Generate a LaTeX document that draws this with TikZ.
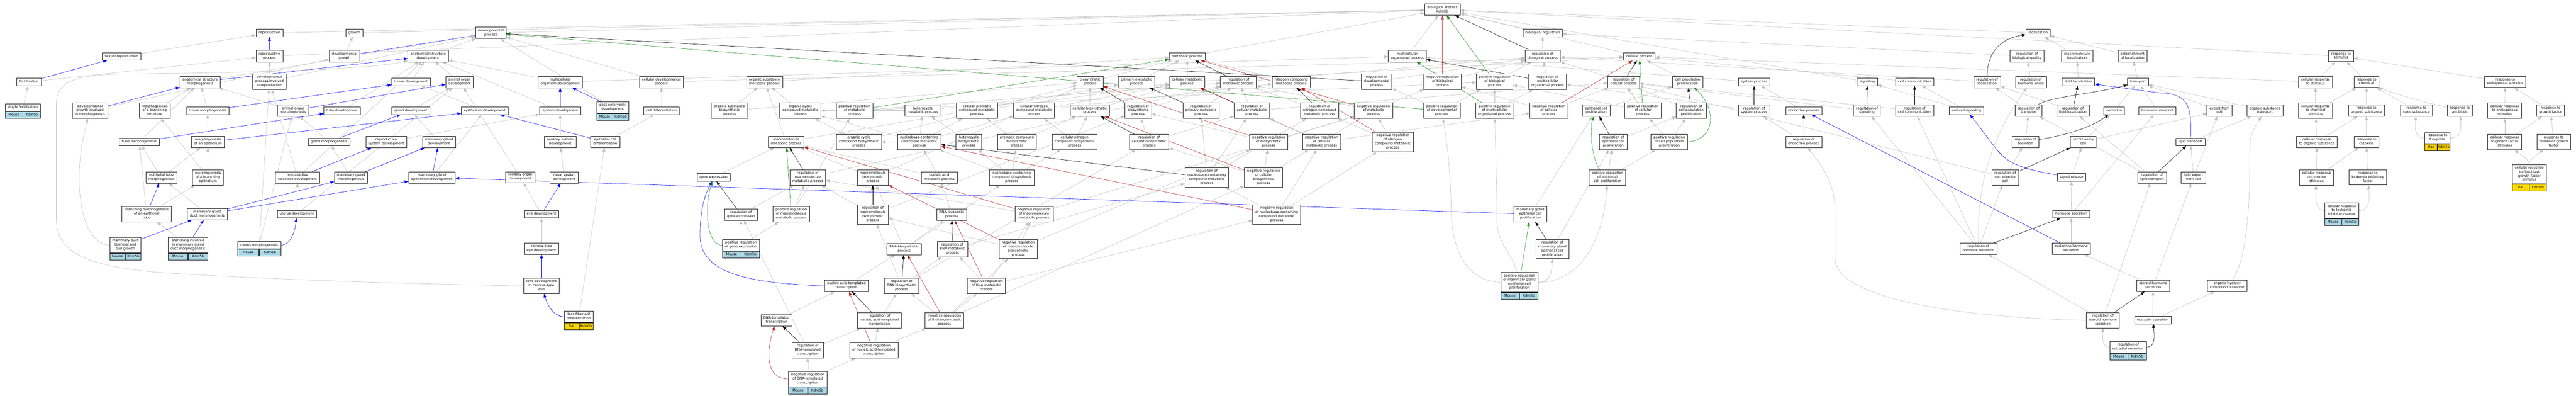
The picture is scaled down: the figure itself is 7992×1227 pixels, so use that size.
\documentclass[tikz,border=0pt]{standalone}
\usepackage{fontspec}
\setsansfont{DejaVu Sans}
\usepackage{tikz}
\usetikzlibrary{arrows.meta,calc,backgrounds}

\definecolor{isagray}{RGB}{192,192,192}
\definecolor{partblue}{RGB}{0,0,255}
\definecolor{posgreen}{RGB}{34,139,34}
\definecolor{negred}{RGB}{178,34,34}
\definecolor{mousecell}{RGB}{173,216,230}
\definecolor{ratcell}{RGB}{255,215,0}

\tikzstyle{gobox} = [rectangle, draw=black!85, line width=1.1pt, fill=white, align=center,
inner xsep=8pt, inner ysep=5.5pt, font=\sffamily\fontsize{10.5}{12.5}\selectfont,
execute at begin node=\strut, execute at end node=\strut]
\tikzstyle{genecell} = [rectangle, draw=black!85, line width=1.1pt, inner sep=0pt, minimum height=21pt,
font=\sffamily\fontsize{10.5}{12.5}\selectfont, text height=8pt, text depth=2.5pt]
\tikzstyle{goline} = [line width=0.9pt, -{Triangle[length=12pt,width=9pt]}]
\tikzstyle{isaline} = [goline, isagray]
\tikzstyle{partline} = [goline, partblue]
\tikzstyle{regline} = [goline, black]
\tikzstyle{posline} = [goline, posgreen]
\tikzstyle{negline} = [goline, negred]

% species / gene row under an annotated term
\newcommand{\kdmcells}[3]{%
  \path let \p1 = ($(#1.south east)-(#1.south west)$) in
    node(#1sp) [genecell, fill=#3, minimum width=0.5*\x1-1.1pt, anchor=north west] at (#1.south west) {#2}
    node(#1gene) [genecell, fill=#3, minimum width=0.5*\x1-1.1pt, anchor=north east] at (#1.south east) {Kdm5b};}

\begin{document}
\begin{tikzpicture}[x=1pt, y=-1pt]
\useasboundingbox (0,0) rectangle (7992,1227);

% Root
\node(root) [gobox] at (4475,30) {Biological Process\\Kdm5b};

% Reproduction and development
\node(sexrep) [gobox] at (377,175) {sexual reproduction};
\node(fert) [gobox] at (90,254) {fertilization};
\node(singfert) [gobox] at (71,333) {single fertilization};
\node(devgrowthmorph) [gobox] at (279,343) {developmental\\growth involved\\in morphogenesis};
\node(asmorph) [gobox] at (621,254) {anatomical structure\\morphogenesis};
\node(branchstruct) [gobox] at (480,343) {morphogenesis\\of a branching\\structure};
\node(tissuemorph) [gobox] at (644,343) {tissue morphogenesis};
\node(tubemorph) [gobox] at (432,440) {tube morphogenesis};
\node(epimorph) [gobox] at (645,440) {morphogenesis\\of an epithelium};
\node(epitubemorph) [gobox] at (501,550) {epithelial tube\\morphogenesis};
\node(branchepi) [gobox] at (645,550) {morphogenesis\\of a branching\\epithelium};
\node(branchtube) [gobox] at (455,664) {branching morphogenesis\\of an epithelial\\tube};
\node(mgductmorph) [gobox] at (643,664) {mammary gland\\duct morphogenesis};
\node(budgrowth) [gobox] at (389,760) {mammary duct\\terminal end\\bud growth};
\node(branchmg) [gobox] at (583,760) {branching involved\\in mammary gland\\duct morphogenesis};
\node(repro) [gobox] at (836,102) {reproduction};
\node(repproc) [gobox] at (836,174) {reproductive\\process};
\node(growth) [gobox] at (1099,102) {growth};
\node(devgrowth) [gobox] at (1069,174) {developmental\\growth};
\node(asdev) [gobox] at (1328,174) {anatomical structure\\development};
\node(devreprod) [gobox] at (836,253) {developmental\\process involved\\in reproduction};
\node(tissuedev) [gobox] at (1275,254) {tissue development};
\node(organmorph) [gobox] at (909,343) {animal organ\\morphogenesis};
\node(tubedev) [gobox] at (1061,343) {tube development};
\node(glanddev) [gobox] at (1275,343) {gland development};
\node(glandmorph) [gobox] at (1021,440) {gland morphogenesis};
\node(repsysdev) [gobox] at (1198,440) {reproductive\\system development};
\node(mgdev) [gobox] at (1362,440) {mammary gland\\development};
\node(repstructdev) [gobox] at (923,550) {reproductive\\structure development};
\node(mgmorph) [gobox] at (1089,550) {mammary gland\\morphogenesis};
\node(mgepidev) [gobox] at (1340,550) {mammary gland\\epithelium development};
\node(uterusdev) [gobox] at (921,664) {uterus development};
\node(uterusmorph) [gobox] at (804,760) {uterus morphogenesis};
\node(devproc) [gobox] at (1523,102) {developmental\\process};
\node(organdev) [gobox] at (1426,254) {animal organ\\development};
\node(mcodev) [gobox] at (1738,254) {multicellular\\organism development};
\node(celldevproc) [gobox] at (2052,254) {cellular developmental\\process};
\node(epidev) [gobox] at (1504,343) {epithelium development};
\node(sysdev) [gobox] at (1738,343) {system development};
\node(postemb) [gobox] at (1901,333) {post-embryonic\\development};
\node(celldiff) [gobox] at (2052,343) {cell differentiation};
\node(senssysdev) [gobox] at (1738,440) {sensory system\\development};
\node(epicelldiff) [gobox] at (1878,440) {epithelial cell\\differentiation};
\node(sensorgdev) [gobox] at (1614,550) {sensory organ\\development};
\node(vissysdev) [gobox] at (1750,550) {visual system\\development};
\node(eyedev) [gobox] at (1680,664) {eye development};
\node(cameyedev) [gobox] at (1680,771) {camera-type\\eye development};
\node(lensdev) [gobox] at (1680,886) {lens development\\in camera-type\\eye};
\node(lensfiber) [gobox] at (1796,982) {lens fiber cell\\differentiation};

% Metabolism
\node(orgsubmet) [gobox] at (2372,254) {organic substance\\metabolic process};
\node(orgsubbio) [gobox] at (2263,343) {organic substance\\biosynthetic\\process};
\node(orgcycmet) [gobox] at (2483,343) {organic cyclic\\compound metabolic\\process};
\node(posregmet) [gobox] at (2651,343) {positive regulation\\of metabolic\\process};
\node(orgcycbio) [gobox] at (2665,440) {organic cyclic\\compound biosynthetic\\process};
\node(macromet) [gobox] at (2439,440) {macromolecule\\metabolic process};
\node(geneexpr) [gobox] at (2214,550) {gene expression};
\node(regmacromet) [gobox] at (2506,550) {regulation of\\macromolecule\\metabolic process};
\node(macrobio) [gobox] at (2708,550) {macromolecule\\biosynthetic\\process};
\node(reggeneexpr) [gobox] at (2299,665) {regulation of\\gene expression};
\node(posregmacromet) [gobox] at (2455,664) {positive regulation\\of macromolecule\\metabolic process};
\node(regmacrobio) [gobox] at (2708,665) {regulation of\\macromolecule\\biosynthetic\\process};
\node(posreggeneexpr) [gobox] at (2299,760) {positive regulation\\of gene expression};
\node(natrans) [gobox] at (2626,886) {nucleic acid-templated\\transcription};
\node(dnatrans) [gobox] at (2409,993) {DNA-templated\\transcription};
\node(regnatrans) [gobox] at (2728,993) {regulation of\\nucleic acid-templated\\transcription};
\node(regdnatrans) [gobox] at (2506,1086) {regulation of\\DNA-templated\\transcription};
\node(negregnatrans) [gobox] at (2711,1086) {negative regulation\\of nucleic acid-templated\\transcription};
\node(negregdnatrans) [gobox] at (2506,1175) {negative regulation\\of DNA-templated\\transcription};
\node(hetmet) [gobox] at (2863,343) {heterocycle\\metabolic process};
\node(cellaromet) [gobox] at (3031,343) {cellular aromatic\\compound metabolic\\process};
\node(cellnitmet) [gobox] at (3208,343) {cellular nitrogen\\compound metabolic\\process};
\node(cellbio) [gobox] at (3381,343) {cellular biosynthetic\\process};
\node(nucmet) [gobox] at (2852,440) {nucleobase-containing\\compound metabolic\\process};
\node(hetbio) [gobox] at (3006,440) {heterocycle\\biosynthetic\\process};
\node(arobio) [gobox] at (3155,440) {aromatic compound\\biosynthetic\\process};
\node(cellnitbio) [gobox] at (3334,440) {cellular nitrogen\\compound biosynthetic\\process};
\node(nucacidmet) [gobox] at (2914,550) {nucleic acid\\metabolic process};
\node(nucbio) [gobox] at (3139,550) {nucleobase-containing\\compound biosynthetic\\process};
\node(rnamet) [gobox] at (2953,665) {RNA metabolic\\process};
\node(negregmacromet) [gobox] at (3208,664) {negative regulation\\of macromolecule\\metabolic process};
\node(rnabio) [gobox] at (2805,772) {RNA biosynthetic\\process};
\node(regrnamet) [gobox] at (2955,772) {regulation of\\RNA metabolic\\process};
\node(negregmacrobio) [gobox] at (3159,772) {negative regulation\\of macromolecule\\biosynthetic\\process};
\node(regrnabio) [gobox] at (2797,886) {regulation of\\RNA biosynthetic\\process};
\node(negregrnamet) [gobox] at (3060,886) {negative regulation\\of RNA metabolic\\process};
\node(negregrnabio) [gobox] at (2930,993) {negative regulation\\of RNA biosynthetic\\process};
\node(metproc) [gobox] at (3683,175) {metabolic process};
\node(bioproc) [gobox] at (3382,254) {biosynthetic\\process};
\node(primet) [gobox] at (3526,254) {primary metabolic\\process};
\node(cellmet) [gobox] at (3683,254) {cellular metabolic\\process};
\node(regmet) [gobox] at (3842,254) {regulation of\\metabolic process};
\node(nitmet) [gobox] at (4006,254) {nitrogen compound\\metabolic process};
\node(regbio) [gobox] at (3531,343) {regulation of\\biosynthetic\\process};
\node(regprimet) [gobox] at (3726,343) {regulation of\\primary metabolic\\process};
\node(regcellmet) [gobox] at (3884,343) {regulation of\\cellular metabolic\\process};
\node(regcellbio) [gobox] at (3565,440) {regulation of\\cellular biosynthetic\\process};
\node(negregbio) [gobox] at (3936,440) {negative regulation\\of biosynthetic\\process};
\node(regnucmet) [gobox] at (3744,550) {regulation of\\nucleobase-containing\\compound metabolic\\process};
\node(negregcellbio) [gobox] at (3920,550) {negative regulation\\of cellular\\biosynthetic\\process};
\node(negregnucmet) [gobox] at (3961,665) {negative regulation\\of nucleobase-containing\\compound metabolic\\process};

% Biological regulation
\node(mcoproc) [gobox] at (4366,174) {multicellular\\organismal process};
\node(regdevproc) [gobox] at (4271,253) {regulation of\\developmental\\process};
\node(negregbp) [gobox] at (4475,253) {negative regulation\\of biological\\process};
\node(posregbp) [gobox] at (4637,253) {positive regulation\\of biological\\process};
\node(regnitmet) [gobox] at (4094,343) {regulation of\\nitrogen compound\\metabolic process};
\node(negregmet) [gobox] at (4261,343) {negative regulation\\of metabolic\\process};
\node(posregdev) [gobox] at (4473,343) {positive regulation\\of developmental\\process};
\node(posregmco) [gobox] at (4637,343) {positive regulation\\of multicellular\\organismal process};
\node(negregcellmet) [gobox] at (4100,440) {negative regulation\\of cellular\\metabolic process};
\node(negregnitmet) [gobox] at (4321,440) {negative regulation\\of nitrogen\\compound metabolic\\process};
\node(bioreg) [gobox] at (4786,102) {biological regulation};
\node(regbp) [gobox] at (4786,174) {regulation of\\biological process};
\node(cellproc) [gobox] at (5086,175) {cellular process};
\node(regmco) [gobox] at (4801,253) {regulation of\\multicellular\\organismal process};
\node(regcellproc) [gobox] at (5037,254) {regulation of\\cellular process};
\node(cellpop) [gobox] at (5236,254) {cell population\\proliferation};
\node(negregcellproc) [gobox] at (4805,343) {negative regulation\\of cellular\\process};
\node(epiprolif) [gobox] at (4952,343) {epithelial cell\\proliferation};
\node(posregcellproc) [gobox] at (5097,343) {positive regulation\\of cellular\\process};
\node(regcellpop) [gobox] at (5247,343) {regulation of\\cell population\\proliferation};
\node(regepiprolif) [gobox] at (5005,440) {regulation of\\epithelial cell\\proliferation};
\node(posregcellpop) [gobox] at (5179,440) {positive regulation\\of cell population\\proliferation};
\node(posregepiprolif) [gobox] at (4987,550) {positive regulation\\of epithelial\\cell proliferation};
\node(mgepiprolif) [gobox] at (4748,664) {mammary gland\\epithelial cell\\proliferation};
\node(regmgepiprolif) [gobox] at (4816,772) {regulation of\\mammary gland\\epithelial cell\\proliferation};
\node(posregmgepiprolif) [gobox] at (4714,875) {positive regulation\\of mammary gland\\epithelial cell\\proliferation};

% Signaling and localization
\node(sysproc) [gobox] at (5442,254) {system process};
\node(regsysproc) [gobox] at (5442,343) {regulation of\\system process};
\node(endoproc) [gobox] at (5596,343) {endocrine process};
\node(regendoproc) [gobox] at (5596,440) {regulation of\\endocrine process};
\node(signaling) [gobox] at (5793,254) {signaling};
\node(regsignal) [gobox] at (5792,343) {regulation of\\signaling};
\node(cellcomm) [gobox] at (5940,254) {cell communication};
\node(regcellcomm) [gobox] at (5940,343) {regulation of\\cell communication};
\node(localization) [gobox] at (6323,102) {localization};
\node(regbioqual) [gobox] at (6289,174) {regulation of\\biological quality};
\node(macroloc) [gobox] at (6444,174) {macromolecule\\localization};
\node(estloc) [gobox] at (6616,174) {establishment\\of localization};
\node(regloc) [gobox] at (6165,254) {regulation of\\localization};
\node(reghormlev) [gobox] at (6301,254) {regulation of\\hormone levels};
\node(lipidloc) [gobox] at (6448,254) {lipid localization};
\node(transport) [gobox] at (6633,254) {transport};
\node(cellcell) [gobox] at (6101,343) {cell-cell signaling};
\node(regtransport) [gobox] at (6294,343) {regulation of\\transport};
\node(reglipidloc) [gobox] at (6431,343) {regulation of\\lipid localization};
\node(secretion) [gobox] at (6559,343) {secretion};
\node(hormtrans) [gobox] at (6693,343) {hormone transport};
\node(regsecretion) [gobox] at (6284,440) {regulation of\\secretion};
\node(seccell) [gobox] at (6463,440) {secretion by\\cell};
\node(regseccell) [gobox] at (6221,550) {regulation of\\secretion by\\cell};
\node(sigrelease) [gobox] at (6427,550) {signal release};
\node(reglipidtrans) [gobox] at (6677,550) {regulation of\\lipid transport};
\node(hormsec) [gobox] at (6426,664) {hormone secretion};
\node(reghormsec) [gobox] at (6138,771) {regulation of\\hormone secretion};
\node(endohormsec) [gobox] at (6426,771) {endocrine hormone\\secretion};
\node(sterhormsec) [gobox] at (6680,886) {steroid hormone\\secretion};
\node(regsterhormsec) [gobox] at (6524,993) {regulation of\\steroid hormone\\secretion};
\node(estradiolsec) [gobox] at (6679,992) {estradiol secretion};
\node(regestradiol) [gobox] at (6602,1076) {regulation of\\estradiol secretion};

% Response to stimulus
\node(respstim) [gobox] at (7263,174) {response to\\stimulus};
\node(cellrespstim) [gobox] at (7184,254) {cellular response\\to stimulus};
\node(respchem) [gobox] at (7342,254) {response to\\chemical};
\node(exportcell) [gobox] at (6886,343) {export from\\cell};
\node(orgsubtrans) [gobox] at (7027,343) {organic substance\\transport};
\node(cellrespchem) [gobox] at (7184,343) {cellular response\\to chemical\\stimulus};
\node(resporg) [gobox] at (7342,343) {response to\\organic substance};
\node(lipidtrans) [gobox] at (6796,440) {lipid transport};
\node(cellresporg) [gobox] at (7188,440) {cellular response\\to organic substance};
\node(respcyto) [gobox] at (7342,440) {response to\\cytokine};
\node(lipidexport) [gobox] at (6805,550) {lipid export\\from cell};
\node(cellrespcyto) [gobox] at (7187,550) {cellular response\\to cytokine\\stimulus};
\node(resplif) [gobox] at (7346,550) {response to\\leukemia inhibitory\\factor};
\node(orghydtrans) [gobox] at (6910,886) {organic hydroxy\\compound transport};
\node(cellresplif) [gobox] at (7265,653) {cellular response\\to leukemia\\inhibitory factor};
\node(respendo) [gobox] at (7772,254) {response to\\endogenous stimulus};
\node(resptoxic) [gobox] at (7497,343) {response to\\toxic substance};
\node(respantibiotic) [gobox] at (7632,343) {response to\\antibiotic};
\node(cellrespendo) [gobox] at (7771,343) {cellular response\\to endogenous\\stimulus};
\node(respgf) [gobox] at (7913,343) {response to\\growth factor};
\node(respfungicide) [gobox] at (7562,428) {response to\\fungicide};
\node(cellrespgf) [gobox] at (7771,440) {cellular response\\to growth factor\\stimulus};
\node(respfgf) [gobox] at (7923,440) {response to\\fibroblast growth\\factor};
\node(cellrespfgf) [gobox] at (7847,540) {cellular response\\to fibroblast\\growth factor\\stimulus};

% Annotated terms
\kdmcells{singfert}{Mouse}{mousecell}
\kdmcells{budgrowth}{Mouse}{mousecell}
\kdmcells{branchmg}{Mouse}{mousecell}
\kdmcells{uterusmorph}{Mouse}{mousecell}
\kdmcells{postemb}{Mouse}{mousecell}
\kdmcells{lensfiber}{Rat}{ratcell}
\kdmcells{posreggeneexpr}{Mouse}{mousecell}
\kdmcells{negregdnatrans}{Mouse}{mousecell}
\kdmcells{posregmgepiprolif}{Mouse}{mousecell}
\kdmcells{regestradiol}{Mouse}{mousecell}
\kdmcells{cellresplif}{Mouse}{mousecell}
\kdmcells{respfungicide}{Rat}{ratcell}
\kdmcells{cellrespfgf}{Rat}{ratcell}

\begin{scope}[on background layer]
\fill[white] (0,0) rectangle (7992,1227);

% Reproduction and development lines
\draw[isaline] (sexrep) -- (repro);
\draw[partline] (fert) -- (sexrep);
\draw[isaline] (fert) -- (repproc);
\draw[isaline] (singfert) -- (fert);
\draw[partline] (repproc) -- (repro);
\draw[isaline] (repproc) -- (root);
\draw[isaline] (repro) -- (root);
\draw[isaline] (devreprod) -- (repproc);
\draw[isaline] (devreprod) -- (devproc);
\draw[isaline] (growth) -- (root);
\draw[isaline] (devgrowth) -- (growth);
\draw[partline] (devgrowth) -- (devproc);
\draw[isaline] (devgrowthmorph) -- (devgrowth);
\draw[partline] (devgrowthmorph) -- (asmorph);
\draw[partline] (asmorph) -- (asdev);
\draw[isaline] (asmorph) -- (devproc);
\draw[isaline] (asdev) -- (devproc);
\draw[isaline] (devproc) -- (root);
\draw[isaline] (branchstruct) -- (asmorph);
\draw[isaline] (tissuemorph) -- (asmorph);
\draw[partline] (tissuemorph) -- (tissuedev);
\draw[isaline] (tubemorph) -- (asmorph);
\draw[partline] (tubemorph) -- (tubedev);
\draw[isaline] (epimorph) -- (tissuemorph);
\draw[partline] (epimorph) -- (epidev);
\draw[isaline] (epitubemorph) -- (tubemorph);
\draw[isaline] (epitubemorph) -- (epimorph);
\draw[isaline] (branchepi) -- (epimorph);
\draw[isaline] (branchepi) -- (branchstruct);
\draw[partline] (branchtube) -- (epitubemorph);
\draw[isaline] (branchtube) -- (tubemorph);
\draw[isaline] (branchtube) -- (branchepi);
\draw[isaline] (mgductmorph) -- (epitubemorph);
\draw[partline] (mgductmorph) -- (mgmorph);
\draw[partline] (mgductmorph) -- (mgepidev);
\draw[isaline] (budgrowth.west) .. controls (250,760) and (220,560) .. (devgrowthmorph);
\draw[partline] (budgrowth) -- (mgductmorph);
\draw[isaline] (branchmg) -- (branchtube);
\draw[partline] (branchmg) -- (mgductmorph);
\draw[isaline] (organmorph) -- (asmorph);
\draw[partline] (organmorph) -- (organdev);
\draw[isaline] (tubedev) -- (asdev);
\draw[isaline] (glandmorph) -- (organmorph);
\draw[partline] (glandmorph) -- (glanddev);
\draw[isaline] (tissuedev) -- (asdev);
\draw[isaline] (glanddev) -- (organdev);
\draw[partline] (repstructdev) -- (repsysdev);
\draw[isaline] (repstructdev) -- (asdev);
\draw[isaline] (repstructdev) -- (devreprod);
\draw[isaline] (repsysdev) -- (sysdev);
\draw[isaline] (mgdev) -- (glanddev);
\draw[partline] (mgepidev) -- (mgdev);
\draw[isaline] (mgepidev) -- (epidev);
\draw[isaline] (mgmorph) -- (glandmorph);
\draw[partline] (mgmorph) -- (mgdev);
\draw[isaline] (uterusdev) -- (repstructdev);
\draw[isaline] (uterusdev) -- (organdev);
\draw[partline] (uterusmorph.east) .. controls (900,760) and (915,720) .. (uterusdev);
\draw[isaline] (uterusmorph) -- (organmorph);
\draw[isaline] (uterusmorph) -- (devreprod);
\draw[isaline] (organdev) -- (asdev);
\draw[isaline] (mcodev) -- (asdev);
\draw[isaline] (mcodev) -- (mcoproc);
\draw[partline] (sysdev) -- (mcodev);
\draw[isaline] (sysdev) -- (asdev);
\draw[partline] (postemb) -- (mcodev);
\draw[isaline] (postemb) -- (devproc);
\draw[isaline] (epidev) -- (tissuedev);
\draw[isaline] (celldevproc) -- (devproc);
\draw[isaline] (celldevproc) -- (cellproc);
\draw[isaline] (celldiff) -- (celldevproc);
\draw[partline] (epicelldiff) -- (epidev);
\draw[isaline] (epicelldiff) -- (celldiff);
\draw[isaline] (senssysdev) -- (sysdev);
\draw[isaline] (vissysdev) -- (senssysdev);
\draw[isaline] (sensorgdev) -- (organdev);
\draw[isaline] (eyedev) -- (sensorgdev);
\draw[partline] (eyedev) -- (vissysdev);
\draw[isaline] (cameyedev) -- (eyedev);
\draw[partline] (lensdev) -- (cameyedev);
\draw[isaline] (lensdev.west) .. controls (1100,878) and (700,858) .. (500,845)
  .. controls (260,825) and (175,780) .. (175,680) -- (175,320)
  .. controls (175,240) and (260,230) .. (420,229) .. controls (800,225) and (1150,215) .. (asdev);
\draw[partline] (lensfiber.west) .. controls (1720,982) and (1700,950) .. (lensdev);
\draw[isaline] (lensfiber) -- (epicelldiff);

% Metabolism lines
\draw[isaline] (metproc) -- (root);
\draw[isaline] (bioproc) -- (metproc);
\draw[isaline] (primet) -- (metproc);
\draw[isaline] (cellmet) -- (metproc);
\draw[isaline] (cellmet) -- (cellproc);
\draw[regline] (regmet) -- (metproc);
\draw[isaline] (regmet) -- (regbp);
\draw[isaline] (nitmet) -- (metproc);
\draw[isaline] (orgsubmet) -- (metproc);
\draw[isaline] (orgsubbio) -- (orgsubmet);
\draw[isaline] (orgsubbio) -- (bioproc);
\draw[isaline] (orgcycmet) -- (orgsubmet);
\draw[isaline] (posregmet) -- (regmet);
\draw[posline] (posregmet) -- (metproc);
\draw[isaline] (posregmet) -- (posregbp);
\draw[isaline] (orgcycbio) -- (orgcycmet);
\draw[isaline] (orgcycbio) -- (bioproc);
\draw[isaline] (macromet) -- (orgsubmet);
\draw[isaline] (macromet) -- (primet);
\draw[isaline] (geneexpr) -- (macromet);
\draw[regline] (regmacromet) -- (macromet);
\draw[isaline] (regmacromet) -- (regmet);
\draw[isaline] (macrobio) -- (macromet);
\draw[isaline] (macrobio) -- (bioproc);
\draw[regline] (reggeneexpr) -- (geneexpr);
\draw[isaline] (reggeneexpr) -- (regmacromet);
\draw[posline] (posregmacromet) -- (macromet);
\draw[isaline] (posregmacromet) -- (regmacromet);
\draw[isaline] (posregmacromet) -- (posregmet);
\draw[regline] (regmacrobio) -- (macrobio);
\draw[isaline] (regmacrobio) -- (regmacromet);
\draw[isaline] (regmacrobio) -- (regbio);
\draw[posline] (posreggeneexpr.west) .. controls (2190,760) and (2185,640) .. (geneexpr);
\draw[isaline] (posreggeneexpr) -- (reggeneexpr);
\draw[isaline] (posreggeneexpr) -- (posregmacromet);
\draw[partline] (natrans.west) .. controls (2300,878) and (2172,840) .. (2172,730)
  .. controls (2172,640) and (2190,600) .. (geneexpr);
\draw[isaline] (natrans) -- (rnabio);
\draw[isaline] (dnatrans) -- (natrans);
\draw[regline] (regnatrans) -- (natrans);
\draw[isaline] (regnatrans) -- (regrnabio);
\draw[regline] (regdnatrans) -- (dnatrans);
\draw[isaline] (regdnatrans) -- (regnatrans);
\draw[isaline] (regdnatrans) -- (reggeneexpr);
\draw[negline] (negregnatrans) -- (natrans);
\draw[isaline] (negregnatrans) -- (regnatrans);
\draw[isaline] (negregnatrans) -- (negregrnabio);
\draw[negline] (negregdnatrans.west) .. controls (2370,1175) and (2380,1080) .. (dnatrans);
\draw[isaline] (negregdnatrans) -- (regdnatrans);
\draw[isaline] (negregdnatrans) -- (negregnatrans);
\draw[isaline] (hetmet) -- (orgcycmet);
\draw[isaline] (hetmet) -- (cellmet);
\draw[isaline] (cellaromet) -- (cellmet);
\draw[isaline] (cellnitmet) -- (cellmet);
\draw[isaline] (cellnitmet) -- (nitmet);
\draw[isaline] (cellbio) -- (bioproc);
\draw[isaline] (cellbio) -- (cellmet);
\draw[isaline] (nucmet) -- (hetmet);
\draw[isaline] (nucmet) -- (cellaromet);
\draw[isaline] (nucmet) -- (cellnitmet);
\draw[isaline] (nucmet) -- (orgcycmet);
\draw[isaline] (hetbio) -- (hetmet);
\draw[isaline] (hetbio) -- (orgcycbio);
\draw[isaline] (arobio) -- (cellaromet);
\draw[isaline] (arobio) -- (cellbio);
\draw[isaline] (cellnitbio) -- (cellnitmet);
\draw[isaline] (cellnitbio) -- (cellbio);
\draw[isaline] (nucacidmet) -- (nucmet);
\draw[isaline] (nucacidmet) -- (macromet);
\draw[isaline] (nucbio) -- (nucmet);
\draw[isaline] (nucbio) -- (hetbio);
\draw[isaline] (nucbio) -- (arobio);
\draw[isaline] (nucbio) -- (cellnitbio);
\draw[isaline] (rnamet) -- (nucacidmet);
\draw[negline] (negregmacromet) -- (macromet);
\draw[isaline] (negregmacromet) -- (regmacromet);
\draw[isaline] (negregmacromet) -- (negregmet);
\draw[isaline] (rnabio) -- (rnamet);
\draw[isaline] (rnabio) -- (nucbio);
\draw[isaline] (rnabio) -- (macrobio);
\draw[regline] (regrnamet) -- (rnamet);
\draw[isaline] (regrnamet) -- (regnucmet);
\draw[negline] (negregmacrobio) -- (macrobio);
\draw[isaline] (negregmacrobio) -- (negregmacromet);
\draw[isaline] (negregmacrobio) -- (regmacrobio);
\draw[isaline] (negregmacrobio) -- (negregbio);
\draw[regline] (regrnabio) -- (rnabio);
\draw[isaline] (regrnabio) -- (regrnamet);
\draw[isaline] (regrnabio) -- (regmacrobio);
\draw[isaline] (regrnabio) -- (regcellbio);
\draw[negline] (negregrnamet) -- (rnamet);
\draw[isaline] (negregrnamet) -- (regrnamet);
\draw[isaline] (negregrnamet) -- (negregmacromet);
\draw[isaline] (negregrnamet) -- (negregnucmet);
\draw[negline] (negregrnabio) -- (rnabio);
\draw[isaline] (negregrnabio) -- (regrnabio);
\draw[isaline] (negregrnabio) -- (negregrnamet);
\draw[isaline] (negregrnabio) -- (negregmacrobio);
\draw[isaline] (negregrnabio) -- (negregcellbio);
\draw[regline] (regbio) -- (bioproc);
\draw[isaline] (regbio) -- (regmet);
\draw[regline] (regprimet) -- (primet);
\draw[isaline] (regprimet) -- (regmet);
\draw[regline] (regcellmet) -- (cellmet);
\draw[isaline] (regcellmet) -- (regmet);
\draw[isaline] (regcellmet) -- (regcellproc);
\draw[regline] (regcellbio) -- (cellbio);
\draw[isaline] (regcellbio) -- (regbio);
\draw[isaline] (regcellbio) -- (regcellmet);
\draw[negline] (negregbio) -- (bioproc);
\draw[isaline] (negregbio) -- (regbio);
\draw[isaline] (negregbio) -- (negregmet);
\draw[regline] (regnucmet) -- (nucmet);
\draw[isaline] (regnucmet) -- (regcellmet);
\draw[isaline] (regnucmet) -- (regprimet);
\draw[isaline] (regnucmet) -- (regnitmet);
\draw[negline] (negregcellbio) -- (cellbio);
\draw[isaline] (negregcellbio) -- (negregbio);
\draw[isaline] (negregcellbio) -- (regcellbio);
\draw[isaline] (negregcellbio) -- (negregcellmet);
\draw[negline] (negregnucmet) -- (nucmet);
\draw[isaline] (negregnucmet) -- (regnucmet);
\draw[isaline] (negregnucmet) -- (negregcellmet);
\draw[isaline] (negregnucmet) -- (negregnitmet);
\draw[regline] (regnitmet) -- (nitmet);
\draw[isaline] (regnitmet) -- (regmet);
\draw[negline] (negregmet) -- (metproc);
\draw[isaline] (negregmet) -- (regmet);
\draw[isaline] (negregmet) -- (negregbp);
\draw[negline] (negregcellmet) -- (cellmet);
\draw[isaline] (negregcellmet) -- (negregmet);
\draw[isaline] (negregcellmet) -- (regcellmet);
\draw[isaline] (negregcellmet) -- (negregcellproc);
\draw[negline] (negregnitmet) -- (nitmet);
\draw[isaline] (negregnitmet) -- (negregmet);
\draw[isaline] (negregnitmet) -- (regnitmet);

% Biological regulation lines
\draw[regline] (regdevproc) -- (devproc);
\draw[isaline] (regdevproc) -- (regbp);
\draw[negline, line width=1.8pt, negred!75] (negregbp) -- (root);
\draw[isaline] (negregbp) -- (regbp);
\draw[posline] (posregbp) -- (root);
\draw[isaline] (posregbp) -- (regbp);
\draw[posline] (posregdev) -- (devproc);
\draw[isaline] (posregdev) -- (regdevproc);
\draw[isaline] (posregdev) -- (posregbp);
\draw[posline] (posregmco) -- (mcoproc);
\draw[isaline] (posregmco) -- (posregbp);
\draw[isaline] (posregmco) -- (regmco);
\draw[isaline] (mcoproc) -- (root);
\draw[isaline] (bioreg) -- (root);
\draw[isaline] (regbp) -- (bioreg);
\draw[regline] (regbp) -- (root);
\draw[isaline] (cellproc) -- (root);
\draw[isaline] (regmco) -- (regbp);
\draw[regline] (regmco) -- (mcoproc);
\draw[regline] (regcellproc) -- (cellproc);
\draw[isaline] (regcellproc) -- (regbp);
\draw[isaline] (cellpop) -- (cellproc);
\draw[negline] (negregcellproc) -- (cellproc);
\draw[isaline] (negregcellproc) -- (regcellproc);
\draw[isaline] (negregcellproc) -- (negregbp);
\draw[isaline] (epiprolif) -- (cellpop);
\draw[posline] (posregcellproc) -- (cellproc);
\draw[isaline] (posregcellproc) -- (regcellproc);
\draw[isaline] (posregcellproc) -- (posregbp);
\draw[regline] (regcellpop) -- (cellpop);
\draw[isaline] (regcellpop) -- (regcellproc);
\draw[regline] (regepiprolif) -- (epiprolif);
\draw[isaline] (regepiprolif) -- (regcellpop);
\draw[posline] (posregcellpop.east) .. controls (5330,430) and (5320,330) .. (cellpop);
\draw[isaline] (posregcellpop) -- (regcellpop);
\draw[isaline] (posregcellpop) -- (posregcellproc);
\draw[posline] (posregepiprolif) .. controls (4940,500) and (4930,400) .. (epiprolif);
\draw[isaline] (posregepiprolif) -- (regepiprolif);
\draw[isaline] (posregepiprolif) -- (posregcellpop);
\draw[isaline] (mgepiprolif) -- (epiprolif);
\draw[partline] (mgepiprolif) -- (mgepidev);
\draw[regline] (regmgepiprolif) -- (mgepiprolif);
\draw[isaline] (regmgepiprolif) -- (regepiprolif);
\draw[posline] (posregmgepiprolif) -- (mgepiprolif);
\draw[isaline] (posregmgepiprolif.east) .. controls (4810,875) and (4815,840) .. (regmgepiprolif);
\draw[isaline] (posregmgepiprolif.east) .. controls (4900,875) and (4975,750) .. (posregepiprolif);
\draw[isaline] (posregmgepiprolif.west) .. controls (4520,870) and (4503,720) .. (4502,650)
  .. controls (4500,500) and (4485,420) .. (posregdev);
\draw[isaline] (posregmgepiprolif) .. controls (4690,780) and (4645,760) .. (4644,680)
  .. controls (4643,560) and (4640,450) .. (posregmco);

% Signaling and localization lines
\draw[isaline] (sysproc) -- (mcoproc);
\draw[regline] (regsysproc) -- (sysproc);
\draw[isaline] (regsysproc) -- (regmco);
\draw[isaline] (endoproc) -- (sysproc);
\draw[regline] (regendoproc) -- (endoproc);
\draw[isaline] (regendoproc) -- (regsysproc);
\draw[isaline] (signaling) -- (root);
\draw[regline] (regsignal) -- (signaling);
\draw[isaline] (regsignal) -- (regcellproc);
\draw[isaline] (cellcomm) -- (cellproc);
\draw[regline] (regcellcomm) -- (cellcomm);
\draw[isaline] (regcellcomm) -- (regcellproc);
\draw[partline] (endohormsec) -- (endoproc);
\draw[isaline] (endohormsec) -- (hormsec);
\draw[isaline] (cellcell) -- (signaling);
\draw[isaline] (cellcell) -- (cellcomm);
\draw[partline] (sigrelease) .. controls (6250,520) and (6230,500) .. (6200,470)
  .. controls (6160,420) and (6140,390) .. (cellcell);
\draw[isaline] (sigrelease) -- (seccell);
\draw[isaline] (hormsec) -- (sigrelease);
\draw[isaline] (hormsec) -- (hormtrans);
\draw[regline] (reghormsec) -- (hormsec);
\draw[isaline] (reghormsec) -- (regseccell);
\draw[isaline] (reghormsec) .. controls (6135,600) and (6160,450) .. (reghormlev);
\draw[isaline] (reghormsec) -- (regsignal);
\draw[isaline] (reghormsec) -- (regcellcomm);
\draw[isaline] (localization) -- (root);
\draw[isaline] (regbioqual) -- (bioreg);
\draw[isaline] (macroloc) -- (localization);
\draw[isaline] (estloc) -- (localization);
\draw[regline] (regloc) .. controls (6165,170) and (6200,120) .. (localization);
\draw[isaline] (regloc) -- (regbp);
\draw[isaline] (reghormlev) -- (regbioqual);
\draw[isaline] (lipidloc) -- (macroloc);
\draw[isaline] (transport) -- (estloc);
\draw[regline] (regtransport) .. controls (6360,300) and (6500,290) .. (transport);
\draw[isaline] (regtransport) -- (regloc);
\draw[regline] (reglipidloc) -- (lipidloc);
\draw[isaline] (reglipidloc) -- (regloc);
\draw[isaline] (secretion) -- (transport);
\draw[isaline] (hormtrans) -- (transport);
\draw[regline] (regsecretion) .. controls (6400,420) and (6480,400) .. (secretion);
\draw[isaline] (regsecretion) -- (regtransport);
\draw[isaline] (seccell) -- (secretion);
\draw[isaline] (seccell) -- (exportcell);
\draw[regline] (regseccell) -- (seccell);
\draw[isaline] (regseccell) -- (regsecretion);
\draw[isaline] (regseccell) -- (regcellproc);
\draw[regline] (reglipidtrans) -- (lipidtrans);
\draw[isaline] (reglipidtrans) -- (regtransport);
\draw[isaline] (reglipidtrans) -- (reglipidloc);
\draw[partline] (lipidtrans) .. controls (6800,330) and (6790,290) .. (6700,288) -- (lipidloc);
\draw[isaline] (lipidtrans) -- (orgsubtrans);
\draw[isaline] (exportcell) -- (transport);
\draw[isaline] (orgsubtrans) -- (transport);
\draw[isaline] (lipidexport) -- (lipidtrans);
\draw[isaline] (lipidexport) -- (exportcell);
\draw[isaline] (sterhormsec) -- (endohormsec);
\draw[isaline] (sterhormsec) -- (lipidexport);
\draw[isaline] (estradiolsec) -- (sterhormsec);
\draw[isaline] (estradiolsec) -- (orghydtrans);
\draw[isaline] (orghydtrans) .. controls (6980,800) and (6980,550) .. (6980,500) .. controls (6980,420) .. (orgsubtrans);
\draw[regline] (regsterhormsec) -- (sterhormsec);
\draw[isaline] (regsterhormsec) -- (reghormsec);
\draw[isaline] (regsterhormsec) -- (reglipidtrans);
\draw[isaline] (regsterhormsec.west) .. controls (6100,985) and (5693,930) .. (5693,800)
  -- (5693,650) .. controls (5693,560) and (5640,500) .. (regendoproc);
\draw[regline] (regestradiol.east) .. controls (6685,1076) and (6685,1050) .. (estradiolsec);
\draw[isaline] (regestradiol.west) .. controls (6520,1076) and (6524,1050) .. (regsterhormsec);

% Response to stimulus lines
\draw[isaline] (respstim) -- (root);
\draw[isaline] (cellrespstim) -- (respstim);
\draw[isaline] (cellrespstim) -- (cellproc);
\draw[isaline] (respchem) -- (respstim);
\draw[isaline] (cellrespchem) -- (cellrespstim);
\draw[isaline] (cellrespchem) -- (respchem);
\draw[isaline] (resporg) -- (respchem);
\draw[isaline] (cellresporg) -- (cellrespchem);
\draw[isaline] (cellresporg) -- (resporg);
\draw[isaline] (respcyto) -- (resporg);
\draw[isaline] (cellrespcyto) -- (cellresporg);
\draw[isaline] (cellrespcyto) -- (respcyto);
\draw[isaline] (resplif) -- (respcyto);
\draw[isaline] (cellresplif.west) .. controls (7185,653) and (7183,620) .. (cellrespcyto);
\draw[isaline] (cellresplif.east) .. controls (7350,653) and (7352,620) .. (resplif);
\draw[isaline] (respendo) -- (respstim);
\draw[isaline] (resptoxic) -- (respchem);
\draw[isaline] (respantibiotic) .. controls (7560,325) and (7450,300) .. (respchem);
\draw[isaline] (respfungicide.west) .. controls (7492,428) and (7492,400) .. (resptoxic);
\draw[isaline] (respfungicide.east) .. controls (7636,428) and (7636,400) .. (respantibiotic);
\draw[isaline] (cellrespendo) -- (respendo);
\draw[isaline] (respgf) -- (respendo);
\draw[isaline] (cellrespgf) -- (cellrespendo);
\draw[isaline] (cellrespgf) -- (respgf);
\draw[isaline] (respfgf) -- (respgf);
\draw[isaline] (cellrespfgf) .. controls (7847,495) and (7820,480) .. (cellrespgf);
\draw[isaline] (cellrespfgf) .. controls (7847,495) and (7870,480) .. (respfgf);
\end{scope}

\end{tikzpicture}
\end{document}
